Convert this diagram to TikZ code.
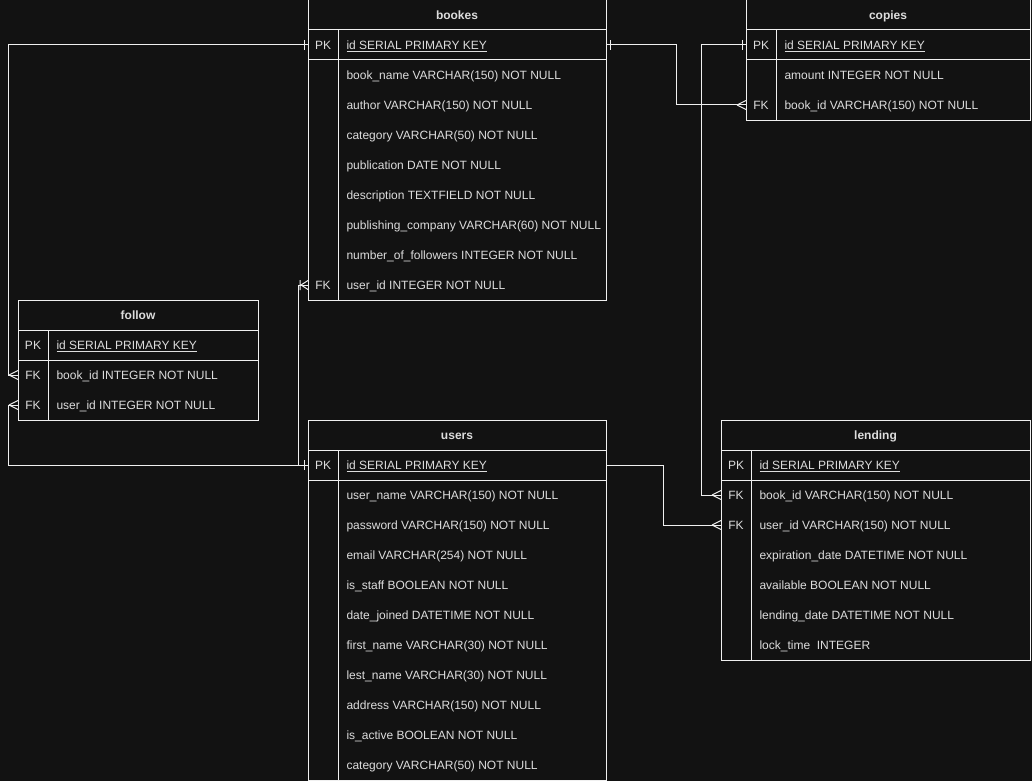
\documentclass[tikz,border=0pt]{standalone}
\usepackage{fontspec}
\setmainfont{Liberation Sans}
\definecolor{bg}{HTML}{121212}
\definecolor{ln}{HTML}{F0F0F0}
\definecolor{tx}{HTML}{DDDDDD}
\begin{document}
\begin{tikzpicture}[x=1pt,y=-1pt,line width=1pt,
  tbl/.style={draw=ln,fill=bg,rectangle,inner sep=0pt,outer sep=0pt,anchor=north west},
  ttl/.style={font=\fontsize{12}{14}\selectfont\bfseries,text=tx,anchor=base,inner sep=0pt},
  keyt/.style={font=\fontsize{12}{14}\selectfont,text=tx,anchor=base,inner sep=0pt},
  fld/.style={font=\fontsize{12}{14}\selectfont,text=tx,anchor=base west,inner sep=0pt},
  sepl/.style={draw=ln,line width=1pt},
  conn/.style={draw=ln,line width=1pt},
  crow/.pic={\draw[conn] (-9,0) -- (0,-4.5) (-9,0) -- (0,4.5);},
  crowbar/.pic={\draw[conn] (-7,0) -- (0,-4.5) (-7,0) -- (0,4.5) (-8,-5) -- (-8,5);},
  onebar/.pic={\draw[conn] (-4,-5) -- (-4,5);}
]
\useasboundingbox (0,0) rectangle (1032,781);
\fill[bg] (0,0) rectangle (1032,781);

% ---------- bookes ----------
\node[tbl,minimum width=298pt,minimum height=300pt] (bookes) at (308,0) {};
\draw[sepl] (308,30) -- (606,30) (308,60) -- (606,60) (338,30) -- (338,300);
\node[ttl] (bookes-t) at (457,19.5) {bookes};
\node[keyt] (bookes-k0) at (323,49.5) {PK};
\node[fld] (bookes-pk) at (346,49.5) {\underline{id SERIAL PRIMARY KEY}};
\foreach \t [count=\i] in {{book\_name VARCHAR(150) NOT NULL},{author VARCHAR(150) NOT NULL},{category VARCHAR(50) NOT NULL},{publication DATE NOT NULL},{description TEXTFIELD NOT NULL},{publishing\_company VARCHAR(60) NOT NULL},{number\_of\_followers INTEGER NOT NULL},{user\_id INTEGER NOT NULL}}
  \node[fld] (bookes-f\i) at (346,{49.5+30*\i}) {\t};
\node[keyt] (bookes-k8) at (323,289.5) {FK};
\coordinate (bookes-pk-w) at (308,45);
\coordinate (bookes-pk-e) at (606,45);
\coordinate (bookes-fk-w) at (308,285);

% ---------- copies ----------
\node[tbl,minimum width=284pt,minimum height=120pt] (copies) at (746,0) {};
\draw[sepl] (746,30) -- (1030,30) (746,60) -- (1030,60) (776,30) -- (776,120);
\node[ttl] (copies-t) at (888,19.5) {copies};
\node[keyt] (copies-k0) at (761,49.5) {PK};
\node[fld] (copies-pk) at (784,49.5) {\underline{id SERIAL PRIMARY KEY}};
\node[fld] (copies-f1) at (784,79.5) {amount INTEGER NOT NULL};
\node[keyt] (copies-k2) at (761,109.5) {FK};
\node[fld] (copies-f2) at (784,109.5) {book\_id VARCHAR(150) NOT NULL};
\coordinate (copies-pk-w) at (746,45);
\coordinate (copies-fk-w) at (746,105);

% ---------- follow ----------
\node[tbl,minimum width=240pt,minimum height=120pt] (follow) at (18,300) {};
\draw[sepl] (18,330) -- (258,330) (18,360) -- (258,360) (48,330) -- (48,420);
\node[ttl] (follow-t) at (138,319.5) {follow};
\node[keyt] (follow-k0) at (33,349.5) {PK};
\node[fld] (follow-pk) at (56,349.5) {\underline{id SERIAL PRIMARY KEY}};
\node[keyt] (follow-k1) at (33,379.5) {FK};
\node[fld] (follow-f1) at (56,379.5) {book\_id INTEGER NOT NULL};
\node[keyt] (follow-k2) at (33,409.5) {FK};
\node[fld] (follow-f2) at (56,409.5) {user\_id INTEGER NOT NULL};
\coordinate (follow-book-w) at (18,375);
\coordinate (follow-user-w) at (18,405);

% ---------- users ----------
\node[tbl,minimum width=298pt,minimum height=360pt] (users) at (308,420) {};
\draw[sepl] (308,450) -- (606,450) (308,480) -- (606,480) (338,450) -- (338,780);
\node[ttl] (users-t) at (457,439.5) {users};
\node[keyt] (users-k0) at (323,469.5) {PK};
\node[fld] (users-pk) at (346,469.5) {\underline{id SERIAL PRIMARY KEY}};
\foreach \t [count=\i] in {{user\_name VARCHAR(150) NOT NULL},{password VARCHAR(150) NOT NULL},{email VARCHAR(254) NOT NULL},{is\_staff BOOLEAN NOT NULL},{date\_joined DATETIME NOT NULL},{first\_name VARCHAR(30) NOT NULL},{lest\_name VARCHAR(30) NOT NULL},{address VARCHAR(150) NOT NULL},{is\_active BOOLEAN NOT NULL},{category VARCHAR(50) NOT NULL}}
  \node[fld] (users-f\i) at (346,{469.5+30*\i}) {\t};
\coordinate (users-pk-w) at (308,465);
\coordinate (users-pk-e) at (606,465);

% ---------- lending ----------
\node[tbl,minimum width=309pt,minimum height=240pt] (lending) at (721,420) {};
\draw[sepl] (721,450) -- (1030,450) (721,480) -- (1030,480) (751,450) -- (751,660);
\node[ttl] (lending-t) at (875.5,439.5) {lending};
\node[keyt] (lending-k0) at (736,469.5) {PK};
\node[fld] (lending-pk) at (759,469.5) {\underline{id SERIAL PRIMARY KEY}};
\node[keyt] (lending-k1) at (736,499.5) {FK};
\node[keyt] (lending-k2) at (736,529.5) {FK};
\foreach \t [count=\i] in {{book\_id VARCHAR(150) NOT NULL},{user\_id VARCHAR(150) NOT NULL},{expiration\_date DATETIME NOT NULL},{available BOOLEAN NOT NULL},{lending\_date DATETIME NOT NULL},{lock\_time\ \ INTEGER}}
  \node[fld] (lending-f\i) at (759,{469.5+30*\i}) {\t};
\coordinate (lending-book-w) at (721,495);
\coordinate (lending-user-w) at (721,525);

% ---------- connectors ----------
\draw[conn] (bookes-pk-w) -| ([xshift=-10pt]follow-book-w) -- (follow-book-w);
\draw[conn] (follow-user-w) -- ++(-10,0) |- (users-pk-w);
\draw[conn] (bookes-fk-w) -- ++(-10,0) |- (users-pk-w);
\draw[conn] (bookes-pk-e) -- ++(70,0) |- (copies-fk-w);
\draw[conn] (copies-pk-w) -- ++(-45,0) |- (lending-book-w);
\draw[conn] (users-pk-e) -- ++(57,0) |- (lending-user-w);

% ---------- markers ----------
\pic at (bookes-pk-w) {onebar};
\pic[rotate=180] at (bookes-pk-e) {onebar};
\pic at (copies-pk-w) {onebar};
\pic at (users-pk-w) {onebar};
\pic at (follow-book-w) {crow};
\pic at (follow-user-w) {crow};
\pic at (copies-fk-w) {crow};
\pic at (lending-book-w) {crow};
\pic at (lending-user-w) {crow};
\pic at (bookes-fk-w) {crowbar};
\end{tikzpicture}
\end{document}
